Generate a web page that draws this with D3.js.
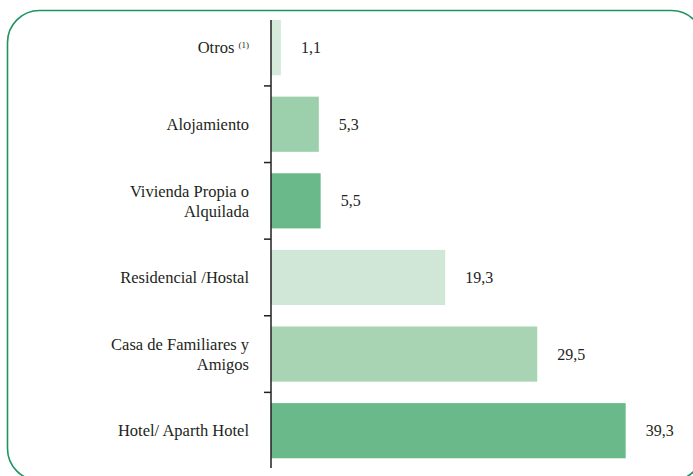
<!DOCTYPE html>
<html>
<head>
<meta charset="utf-8">
<script src="https://cdn.jsdelivr.net/npm/d3@7"></script>
<style>
  body { margin: 0; background: #fff; }
  svg { display: block; font-family: "Liberation Serif", "DejaVu Serif", serif; }
</style>
</head>
<body>
<svg id="chart" width="693" height="476"></svg>
<script>
// categories top to bottom, label lines
const categories = [
    ["Otros"],
    ["Alojamiento"],
    ["Vivienda Propia o", "Alquilada"],
    ["Residencial /Hostal"],
    ["Casa de Familiares y", "Amigos"],
    ["Hotel/ Aparth Hotel"]
];
const values = [1.1, 5.3, 5.5, 19.3, 29.5, 39.3];
const valueLabels = ["1,1", "5,3", "5,5", "19,3", "29,5", "39,3"];
const colors = ["#d5eadb", "#9ccfac", "#69b98a", "#d0e7d7", "#a8d4b4", "#69b98a"];

const svg = d3.select("#chart");

// frame
svg.append("rect")
    .attr("x", 7.5).attr("y", 10.5)
    .attr("width", 696).attr("height", 470)
    .attr("rx", 32).attr("ry", 32)
    .attr("fill", "none")
    .attr("stroke", "#1f9463")
    .attr("stroke-width", 1.6);

const idx = d3.range(values.length);

const y = d3.scaleBand()
    .domain(idx)
    .range([9.3, 469])
    .paddingInner(0.28)
    .paddingOuter(0.14);

const x = d3.scaleLinear()
    .domain([0, 40])
    .range([271, 632]);

// bars
svg.append("g")
    .selectAll("rect")
    .data(idx)
    .enter().append("rect")
    .attr("x", x(0))
    .attr("y", d => y(d))
    .attr("width", d => x(values[d]) - x(0))
    .attr("height", y.bandwidth())
    .attr("fill", d => colors[d]);

// value labels
svg.append("g")
    .selectAll("text")
    .data(idx)
    .enter().append("text")
    .attr("x", d => x(values[d]) + 20)
    .attr("y", d => y(d) + y.bandwidth() / 2)
    .attr("dy", "0.35em")
    .attr("font-size", 16)
    .attr("fill", "#231f20")
    .text(d => valueLabels[d]);

// axis line + ticks between bands
const step = y.step();
svg.append("line")
    .attr("x1", x(0)).attr("x2", x(0))
    .attr("y1", 20).attr("y2", 468)
    .attr("stroke", "#231f20")
    .attr("stroke-width", 1.5);

svg.append("g")
    .selectAll("line")
    .data(idx.slice(1))
    .enter().append("line")
    .attr("x1", x(0) - 7).attr("x2", x(0))
    .attr("y1", d => y(d) - step * y.paddingInner() / 2)
    .attr("y2", d => y(d) - step * y.paddingInner() / 2)
    .attr("stroke", "#231f20")
    .attr("stroke-width", 1.5);

// category labels
const lab = svg.append("g")
    .selectAll("text")
    .data(idx)
    .enter().append("text")
    .attr("text-anchor", "end")
    .attr("font-size", 16.5)
    .attr("fill", "#231f20")
    .attr("transform", d => `translate(249,${y(d) + y.bandwidth() / 2})`);

lab.each(function(d) {
    const lines = categories[d];
    const t = d3.select(this);
    const lh = 20;
    lines.forEach((s, i) => {
        t.append("tspan")
            .attr("x", 0)
            .attr("y", (i - (lines.length - 1) / 2) * lh)
            .attr("dy", "0.35em")
            .text(s);
        if (d === 0) {
            t.append("tspan").text(" ");
            t.append("tspan")
                .attr("font-size", 9)
                .attr("dy", "-0.6em")
                .text("(1)");
        }
    });
});
</script>
</body>
</html>
